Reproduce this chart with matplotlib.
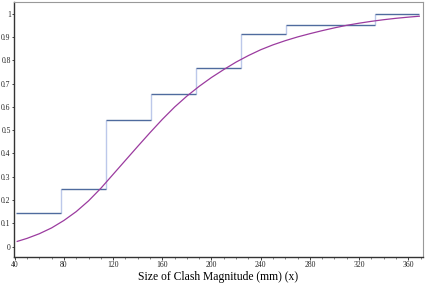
import numpy as np
import matplotlib.pyplot as plt
from matplotlib.ticker import MultipleLocator

plt.rcParams['font.family'] = ['Liberation Serif', 'DejaVu Serif']

# empirical step function (bin edges and cumulative levels)
step_edges = [41, 78, 114.6, 151, 187.4, 223.8, 260.3, 333, 369]
step_levels = [0.143, 0.246, 0.544, 0.657, 0.766, 0.914, 0.951, 1.0]

# fitted cumulative curve
curve_x = [42, 50, 60, 70, 80, 90, 100, 110, 120, 130, 140, 150, 160, 170,
           180, 190, 200, 210, 220, 230, 240, 250, 260, 270, 280, 290, 300,
           310, 320, 330, 340, 350, 360, 369]
curve_y = [0.022, 0.035, 0.055, 0.080, 0.112, 0.150, 0.196, 0.250, 0.310,
           0.370, 0.430, 0.489, 0.546, 0.599, 0.646, 0.688, 0.726, 0.760,
           0.792, 0.820, 0.845, 0.866, 0.884, 0.900, 0.914, 0.927, 0.939,
           0.950, 0.959, 0.967, 0.974, 0.980, 0.985, 0.989]

x_ticks = [40, 80, 120, 160, 200, 240, 280, 320, 360]
y_ticks = [0, 0.1, 0.2, 0.3, 0.4, 0.5, 0.6, 0.7, 0.8, 0.9, 1]
y_labels = ['0', '0.1', '0.2', '0.3', '0.4', '0.5', '0.6', '0.7', '0.8', '0.9', '1']

fig = plt.figure(figsize=(4.29, 2.87), dpi=100)
ax = fig.add_axes([0.0315, 0.1045, 0.9545, 0.8885])

# vertical risers in light blue, flat parts in darker blue
ax.vlines(step_edges[1:-1], step_levels[:-1], step_levels[1:],
          colors='#bcc8ea', linewidth=1.0)
ax.hlines(step_levels, step_edges[:-1], step_edges[1:],
          colors='#4f6b9e', linewidth=1.0)

ax.plot(curve_x, curve_y, color='#9b3b9f', linewidth=0.9)

ax.set_xlim(39, 372)
ax.set_ylim(-0.045, 1.05)
ax.set_xticks(x_ticks)
ax.xaxis.set_minor_locator(MultipleLocator(10))
ax.set_yticks(y_ticks)
ax.set_yticklabels(y_labels)
ax.tick_params(axis='x', which='major', labelsize=5.5, length=2.0,
               width=0.6, pad=1.2, colors='#222222')
ax.tick_params(axis='y', which='major', labelsize=5.5, length=1.2,
               width=0.6, pad=0.8, colors='#222222')
ax.tick_params(axis='x', which='minor', length=1.2, width=0.5, colors='#555555')

for side in ['left', 'bottom']:
    ax.spines[side].set_color('#333333')
    ax.spines[side].set_linewidth(1.0)
for side in ['top', 'right']:
    ax.spines[side].set_color('#999999')
    ax.spines[side].set_linewidth(0.8)

ax.set_xlabel('Size of Clash Magnitude (mm) (x)', fontsize=8.4, labelpad=1)

fig.savefig('out.png', dpi=100)
